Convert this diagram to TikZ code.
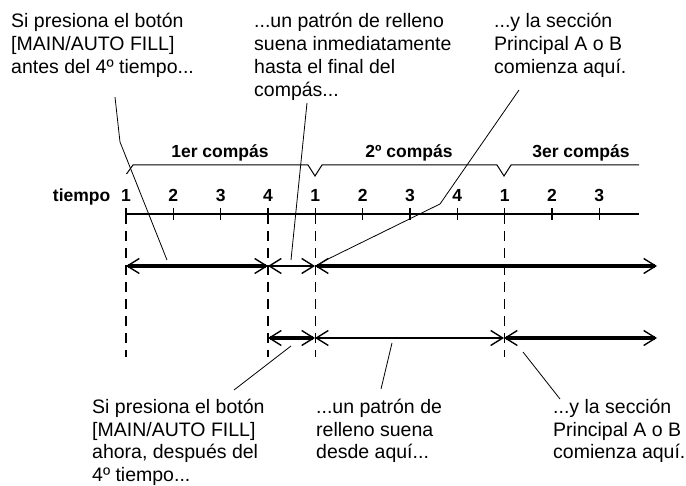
\documentclass[tikz,border=0pt]{standalone}
\usepackage{fontspec}
\setmainfont{Liberation Sans}
\usetikzlibrary{arrows.meta}
\tikzset{
  beatfig/.style={x=1pt, y=-1pt},
  % el ancla base cae en la linea base de la ultima linea
  note/.style={anchor=base west, align=left, inner sep=0pt,
    font=\fontsize{19.5}{23}\selectfont},
  beatlabel/.style={anchor=base, inner sep=0pt,
    font=\bfseries\fontsize{17.5}{20}\selectfont},
  axisline/.style={line width=1.2pt},
  barline/.style={line width=1pt},
  guide/.style={line width=1.4pt, dash pattern=on 10pt off 7pt},
  barb/.tip={Straight Barb[length=12pt, width=15pt, line width=1.4pt]},
  mainspan/.style={line width=3.2pt, barb-barb},
  fillspan/.style={line width=1.1pt, barb-barb},
  leader/.style={line width=0.8pt},
}
\begin{document}
\begin{tikzpicture}[beatfig]
  \useasboundingbox (0,0) rectangle (686,486);
  % Texto de las llamadas
  \node[note] (NoteBefore) at (11,74) {Si presiona el botón\\{[}MAIN/AUTO FILL{]}\\antes del 4º tiempo...};
  \node[note] (NoteFillA) at (254,97) {...un patrón de relleno\\suena inmediatamente\\hasta el final del\\compás...};
  \node[note] (NoteMainA) at (494,74) {...y la sección\\Principal A o B\\comienza aquí.};
  \node[note] (NoteAfter) at (92,482) {Si presiona el botón\\{[}MAIN/AUTO FILL{]}\\ahora, después del\\4º tiempo...};
  \node[note] (NoteFillB) at (316,459) {...un patrón de\\relleno suena\\desde aquí...};
  \node[note] (NoteMainB) at (553,459) {...y la sección\\Principal A o B\\comienza aquí.};
  % Compases
  \node[beatlabel] (Bar1) at (220,158) {1er compás};
  \node[beatlabel] (Bar2) at (409,158) {2º compás};
  \node[beatlabel] (Bar3) at (581,158) {3er compás};
  \draw[barline] (126.5,174) -- (133,165) -- (308,165) -- (315,176) -- (322,165)
    -- (497,165) -- (504,176) -- (511,165) -- (639,165);
  % Eje de tiempos
  \node[beatlabel, anchor=base east] (BeatWord) at (110.5,201.5) {tiempo};
  \coordinate (AxisEnd) at (639,214);
  \coordinate (GuideFoot) at (0,357);
  \foreach \i/\n in {0/1,1/2,2/3,3/4,4/1,5/2,6/3,7/4,8/1,9/2,10/3} {
    \coordinate (Beat\i) at ({126+47.33*\i},214);
    \node[beatlabel] (Num\i) at ({126+47.33*\i},201.5) {\n};
    \draw[axisline] (Beat\i) ++(0,-6) -- ++(0,12);
  }
  \draw[axisline] (Beat0) -- (AxisEnd);
  \foreach \i in {0,3,4,8}
    \draw[guide] (Beat\i) -- (Beat\i |- GuideFoot);
  % Fila superior
  \coordinate (UpStart) at (126,266);
  \coordinate (UpFill) at (268,266);
  \coordinate (UpMain) at (315,266);
  \coordinate (UpEnd) at (657,266);
  \draw[mainspan] (UpStart) -- (UpFill);
  \draw[fillspan] (UpFill) -- (UpMain);
  \draw[mainspan] (UpMain) -- (UpEnd);
  % Fila inferior
  \coordinate (LowFill) at (268,338);
  \coordinate (LowShort) at (315,338);
  \coordinate (LowMain) at (504,338);
  \coordinate (LowEnd) at (657,338);
  \draw[mainspan] (LowFill) -- (LowShort);
  \draw[fillspan] (LowShort) -- (LowMain);
  \draw[mainspan] (LowMain) -- (LowEnd);
  % Lineas de llamada
  \coordinate (LeadA) at (115,97);
  \coordinate (LeadAk) at (120,142);
  \coordinate (LeadAe) at (167,260);
  \coordinate (LeadB) at (307,103);
  \coordinate (LeadBe) at (291,260);
  \coordinate (LeadC) at (519,90);
  \coordinate (LeadCk) at (440,204);
  \coordinate (LeadCe) at (324,261);
  \coordinate (LeadD) at (291,346);
  \coordinate (LeadDe) at (234,390);
  \coordinate (LeadE) at (392,343);
  \coordinate (LeadEe) at (381,389);
  \coordinate (LeadF) at (523,352);
  \coordinate (LeadFe) at (560,399);
  \draw[leader] (LeadA) -- (LeadAk) -- (LeadAe);
  \draw[leader] (LeadB) -- (LeadBe);
  \draw[leader] (LeadC) -- (LeadCk) -- (LeadCe);
  \draw[leader] (LeadD) -- (LeadDe);
  \draw[leader] (LeadE) -- (LeadEe);
  \draw[leader] (LeadF) -- (LeadFe);
\end{tikzpicture}
\end{document}
